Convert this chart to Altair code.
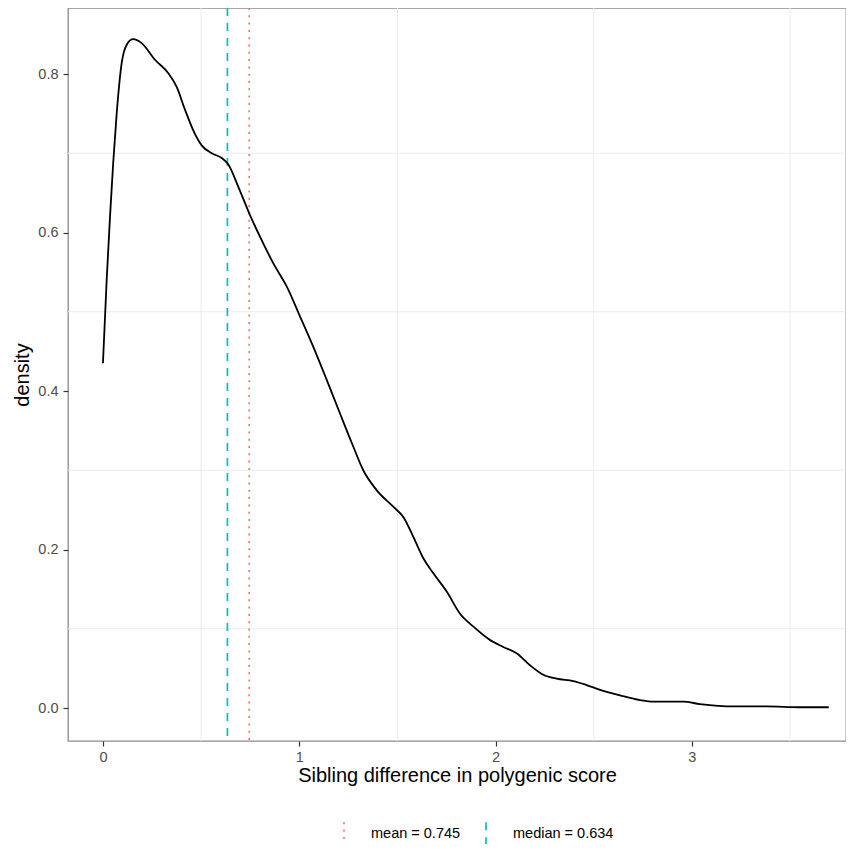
import altair as alt
import pandas as pd

# Density curve
dens_x = [0.0, 0.019, 0.036, 0.052, 0.070, 0.095, 0.121, 0.154, 0.197, 0.265, 0.333, 0.375,
          0.418, 0.460, 0.503, 0.554, 0.605, 0.638, 0.689, 0.749, 0.817, 0.868, 0.936, 1.004,
          1.071, 1.140, 1.207, 1.275, 1.326, 1.394, 1.479, 1.530, 1.581, 1.632, 1.683, 1.751,
          1.819, 1.886, 1.971, 2.039, 2.107, 2.175, 2.243, 2.311, 2.396, 2.464, 2.532, 2.634,
          2.736, 2.803, 2.956, 3.041, 3.211, 3.381, 3.551, 3.697]
dens_y = [0.435, 0.540, 0.620, 0.687, 0.750, 0.813, 0.837, 0.844, 0.839, 0.818, 0.801, 0.784,
          0.755, 0.729, 0.710, 0.700, 0.694, 0.686, 0.658, 0.622, 0.586, 0.561, 0.532, 0.494,
          0.456, 0.414, 0.372, 0.330, 0.300, 0.275, 0.254, 0.241, 0.216, 0.189, 0.170, 0.147,
          0.119, 0.103, 0.086, 0.077, 0.069, 0.054, 0.042, 0.037, 0.034, 0.029, 0.023, 0.016,
          0.010, 0.008, 0.008, 0.005, 0.002, 0.002, 0.001, 0.001]

stat_labels = ["mean = 0.745", "median = 0.634"]
stat_values = [0.745, 0.634]
stat_colors = ["#F8766D", "#00BFC4"]

x_ticks = [0, 1, 2, 3]
y_ticks = [0.0, 0.2, 0.4, 0.6, 0.8]
x_minor = [0.5, 1.5, 2.5, 3.5]
y_minor = [0.1, 0.3, 0.5, 0.7]

FONT = "Liberation Sans"

xscale = alt.Scale(domain=[-0.178, 3.785], nice=False, zero=False)
yscale = alt.Scale(domain=[-0.0416, 0.8833], nice=False, zero=False)

xaxis = alt.Axis(title="Sibling difference in polygenic score", values=x_ticks, format="d",
                 labelPadding=4, titlePadding=2)
yaxis = alt.Axis(title="density", values=y_ticks, format=".1f", labelPadding=5, titlePadding=5)

curve_df = pd.DataFrame({"x": dens_x, "y": dens_y})
stat_df = pd.DataFrame({"label": stat_labels, "value": stat_values})

grid_x = alt.Chart(pd.DataFrame({"x": x_minor})).mark_rule(color="#ebebeb", strokeWidth=1).encode(
    x=alt.X("x:Q", scale=xscale, axis=xaxis)
)
grid_y = alt.Chart(pd.DataFrame({"y": y_minor})).mark_rule(color="#ebebeb", strokeWidth=1).encode(
    y=alt.Y("y:Q", scale=yscale, axis=yaxis)
)

leg = alt.Legend(title=None, orient="none", legendX=263, legendY=813, direction="horizontal",
                 symbolType="M0,-1L0,1", symbolSize=576, symbolStrokeWidth=1.7,
                 labelFont=FONT, labelFontSize=14.5, labelColor="black", labelOffset=14,
                 columnPadding=12)

vlines = alt.Chart(stat_df).mark_rule(strokeWidth=1.7).encode(
    x=alt.X("value:Q", scale=xscale, axis=xaxis),
    color=alt.Color("label:N", scale=alt.Scale(domain=stat_labels, range=stat_colors), legend=leg),
    strokeDash=alt.StrokeDash("label:N", scale=alt.Scale(domain=stat_labels, range=[[2, 5.3], [8, 7]]),
                              legend=leg),
)

curve = alt.Chart(curve_df).mark_line(color="black", strokeWidth=1.8, interpolate="monotone").encode(
    x=alt.X("x:Q", scale=xscale, axis=xaxis),
    y=alt.Y("y:Q", scale=yscale, axis=yaxis),
)

chart = alt.layer(grid_x, grid_y, vlines, curve).properties(
    width=778, height=733,
    autosize=alt.AutoSizeParams(type="none"),
    padding={"left": 60, "top": 0, "right": 0, "bottom": 103},
).configure_view(
    stroke="#8c8c8c", strokeWidth=1.3
).configure_axis(
    grid=False, domain=False,
    labelFont=FONT, labelFontSize=14.5, labelColor="#4d4d4d",
    tickColor="#333333", tickSize=5, tickWidth=1.2,
    titleFont=FONT, titleFontSize=20, titleColor="black", titleFontWeight="normal",
)

chart.save("out.html", embed_options={"renderer": "svg", "actions": False})
